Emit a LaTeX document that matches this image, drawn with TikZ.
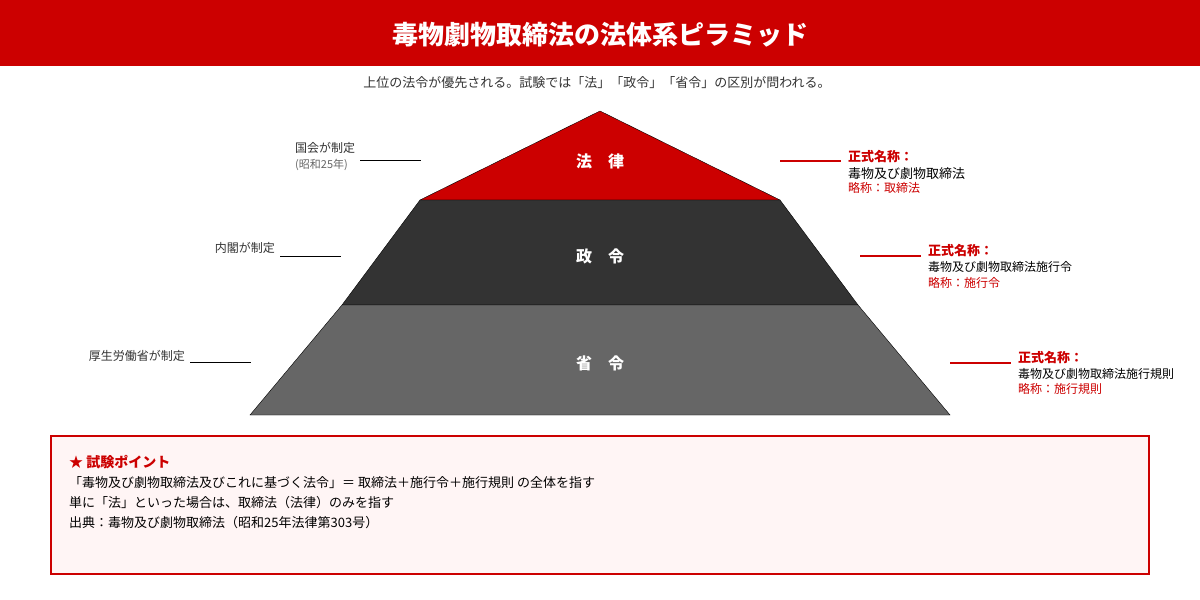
\documentclass[tikz,border=0pt]{standalone}
\usepackage{fontspec}
\setmainfont{Noto Sans CJK JP}
\usetikzlibrary{positioning}
\definecolor{lawred}{HTML}{CC0000}
\definecolor{tiertwo}{HTML}{333333}
\definecolor{tierthree}{HTML}{666666}
\definecolor{ink}{HTML}{333333}
\definecolor{pinkbg}{HTML}{FFF5F5}

\begin{document}
\begin{tikzpicture}[x=1pt, y=-1pt, node distance=3pt,
		tier/.style={text=white, font=\bfseries\fontsize{16}{19}\selectfont},
		maker/.style={inner sep=0pt, text=ink, font=\fontsize{12}{14}\selectfont},
		formal/.style={anchor=west, inner sep=0pt, text=lawred, font=\bfseries\fontsize{13}{15}\selectfont},
		fullname/.style={inner sep=0pt, text=black, font=\fontsize{12}{14}\selectfont},
		short/.style={inner sep=0pt, text=lawred, font=\fontsize{12}{14}\selectfont},
		point/.style={anchor=west, inner sep=0pt, text=black, font=\fontsize{13}{15}\selectfont}]
	\useasboundingbox (0,0) rectangle (1200,600);
	\fill[white] (0,0) rectangle (1200,600);
	
	% header
	\fill[lawred] (0,0) rectangle (1200,66);
	\node[text=white, font=\bfseries\fontsize{26}{30}\selectfont] (title) at (600,35) {毒物劇物取締法の法体系ピラミッド};
	\node[text=ink, font=\fontsize{13}{15}\selectfont] (sub) at (597,83) {上位の法令が優先される。試験では「法」「政令」「省令」の区別が問われる。};
	
	% pyramid
	\filldraw[fill=lawred, draw=black, thin] (600,111) -- (780,200) -- (420,200) -- cycle;
	\filldraw[fill=tiertwo, draw=black, thin] (420,200) -- (780,200) -- (858,305) -- (342,305) -- cycle;
	\filldraw[fill=tierthree, draw=black, thin] (342,305) -- (858,305) -- (950,415) -- (250,415) -- cycle;
	\node[tier] (law) at (600,161) {法　律};
	\node[tier] (order) at (600,256) {政　令};
	\node[tier] (rule) at (600,363) {省　令};
	
	% who makes it
	\node[maker, anchor=west] (diet) at (295,148) {国会が制定};
	\node[maker, anchor=west, text=tierthree, font=\fontsize{11}{13}\selectfont] (year) at (295,165) {(昭和25年)};
	\node[maker, anchor=east] (cabinet) at (275,248) {内閣が制定};
	\node[maker, anchor=east] (ministry) at (185,356) {厚生労働省が制定};
	\coordinate (d1) at (360,160); \coordinate (d2) at (421,160);
	\coordinate (c1) at (280,256); \coordinate (c2) at (341,256);
	\coordinate (m1) at (190,362); \coordinate (m2) at (251,362);
	\path[draw, thin]
		(d1) -- (d2)
		(c1) -- (c2)
		(m1) -- (m2)
	;
	
	% official names
	\node[formal] (lawname) at (848,157) {正式名称：};
	\node[fullname, font=\fontsize{13}{15}\selectfont, below=4pt of lawname.south west, anchor=north west] (lawfull) {毒物及び劇物取締法};
	\node[short, below=2.5pt of lawfull.south west, anchor=north west] (lawshort) {略称：取締法};
	\node[formal] (ordername) at (928,251) {正式名称：};
	\node[fullname, below=4pt of ordername.south west, anchor=north west] (orderfull) {毒物及び劇物取締法施行令};
	\node[short, below=4pt of orderfull.south west, anchor=north west] (ordershort) {略称：施行令};
	\node[formal] (rulename) at (1018,358) {正式名称：};
	\node[fullname, below=3.5pt of rulename.south west, anchor=north west] (rulefull) {毒物及び劇物取締法施行規則};
	\node[short, below=4pt of rulefull.south west, anchor=north west] (ruleshort) {略称：施行規則};
	\coordinate (l1) at (780,161); \coordinate (l2) at (841,161);
	\coordinate (o1) at (860,256); \coordinate (o2) at (921,256);
	\coordinate (r1) at (950,363); \coordinate (r2) at (1011,363);
	\path[draw=lawred, line width=2pt]
		(l1) -- (l2)
		(o1) -- (o2)
		(r1) -- (r2)
	;
	
	% exam point box
	\filldraw[fill=pinkbg, draw=lawred, line width=2pt] (51,436) rectangle (1149,574);
	\node[point, text=lawred, font=\bfseries\fontsize{14}{16}\selectfont] (head) at (69,462) {★ 試験ポイント};
	\node[point] (p1) at (69,483) {「毒物及び劇物取締法及びこれに基づく法令」＝ 取締法＋施行令＋施行規則 の全体を指す};
	\node[point] (p2) at (69,503) {単に「法」といった場合は、取締法（法律）のみを指す};
	\node[point] (p3) at (69,523) {出典：毒物及び劇物取締法（昭和25年法律第303号）};
\end{tikzpicture}
\end{document}
